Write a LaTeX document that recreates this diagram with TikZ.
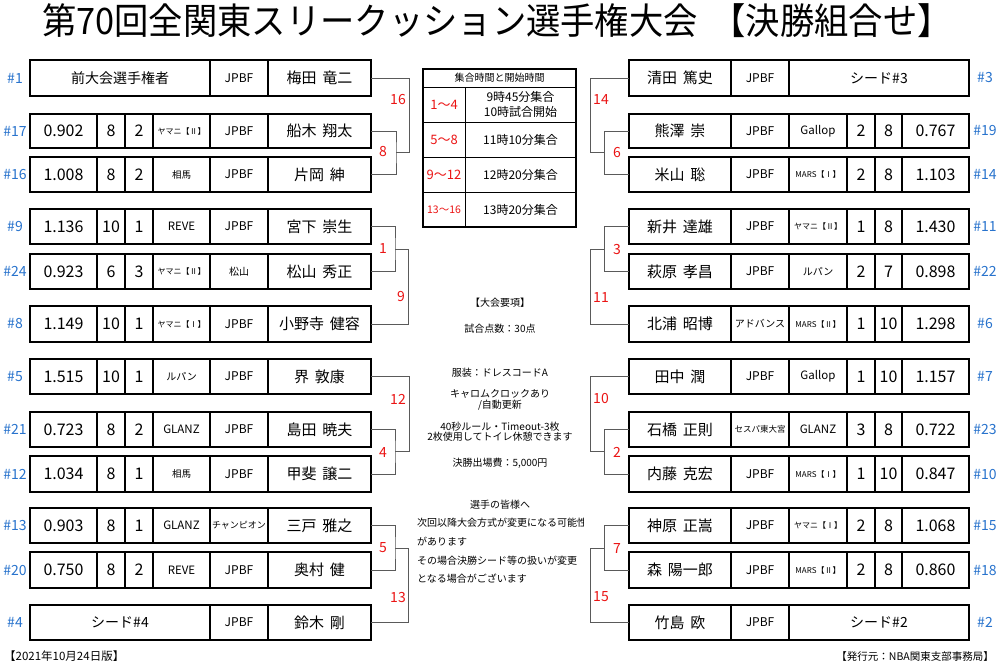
\documentclass[tikz,border=0pt]{standalone}
\usepackage{fontspec}
\setmainfont{Noto Sans CJK JP}
\definecolor{seedblue}{RGB}{40,115,205}
\definecolor{rndred}{RGB}{235,20,20}
\definecolor{connc}{RGB}{90,90,90}
\newcommand\fs[1]{\fontsize{#1}{#1}\selectfont}
\newcommand\nmsp{\hspace{0.4em}}
\tikzset{
  cellbox/.style={draw=black, line width=1.6pt, inner sep=0pt, outer sep=0pt},
  conn/.style={draw=connc, line width=1pt},
  seedlab/.style={text=seedblue, font=\fs{14}},
  rndlab/.style={text=rndred, font=\fs{14}},
  tcell/.style={draw=black, line width=1pt, inner sep=0pt, outer sep=0pt},
  note/.style={font=\fs{10}, inner sep=0pt},
}
% #1 name, #2 x1, #3 x2, #4 top, #5 bot, #6 font size, #7 text
\newcommand\Cell[7]{\node[cellbox, minimum width={(#3-#2)*1pt}, minimum height={(#5-#4)*1pt}, font=\fs{#6}] (#1) at ({(#2+#3)/2},{(#4+#5)/2}) {#7};}
% left row: id top bot avg g w club assoc name
\newcommand\LRow[9]{%
  \Cell{#1a}{30}{97}{#2}{#3}{16}{#4}
  \Cell{#1b}{97}{125}{#2}{#3}{16}{#5}
  \Cell{#1c}{125}{153}{#2}{#3}{16}{#6}
  \Cell{#1d}{153}{210}{#2}{#3}{11.5}{#7}
  \Cell{#1e}{210}{268}{#2}{#3}{12}{#8}
  \Cell{#1}{268}{371}{#2}{#3}{15}{#9}
  \draw[line width=2pt] (30,#2) rectangle (371,#3);}
\newcommand\LSeed[6]{%
  \Cell{#1a}{30}{210}{#2}{#3}{14}{#4}
  \Cell{#1e}{210}{268}{#2}{#3}{12}{#5}
  \Cell{#1}{268}{371}{#2}{#3}{15}{#6}
  \draw[line width=2pt] (30,#2) rectangle (371,#3);}
% right row: id top bot name assoc club w g avg
\newcommand\RRow[9]{%
  \Cell{#1}{629}{731}{#2}{#3}{15}{#4}
  \Cell{#1e}{731}{789}{#2}{#3}{12}{#5}
  \Cell{#1d}{789}{847}{#2}{#3}{11.5}{#6}
  \Cell{#1c}{847}{875}{#2}{#3}{16}{#7}
  \Cell{#1b}{875}{902}{#2}{#3}{16}{#8}
  \Cell{#1a}{902}{969}{#2}{#3}{16}{#9}
  \draw[line width=2pt] (629,#2) rectangle (969,#3);}
\newcommand\RSeed[6]{%
  \Cell{#1}{629}{731}{#2}{#3}{15}{#4}
  \Cell{#1e}{731}{789}{#2}{#3}{12}{#5}
  \Cell{#1a}{789}{969}{#2}{#3}{14}{#6}
  \draw[line width=2pt] (629,#2) rectangle (969,#3);}
\begin{document}
\begin{tikzpicture}[x=1pt,y=-1pt]
\useasboundingbox (0,0) rectangle (1000,667);
\fill[white] (0,0) rectangle (1000,667);

% title
\node[inner sep=0pt] (title) at (497,21) {\scalebox{0.94}[1]{\fs{36.5}第70回全関東スリークッション選手権大会\hspace{0.4em}【決勝組合せ】}};

% ---------- left side ----------
\LSeed{L1}{60}{96}{前大会選手権者}{JPBF}{梅田\nmsp 竜二}
\LRow{L2}{114}{148}{0.902}{8}{2}{\fs{8}ヤマニ【Ⅱ】}{JPBF}{船木\nmsp 翔太}
\LRow{L3}{157}{192}{1.008}{8}{2}{\fs{9.5}相馬}{JPBF}{片岡\nmsp 紳}
\LRow{L4}{209}{244}{1.136}{10}{1}{REVE}{JPBF}{宮下\nmsp 崇生}
\LRow{L5}{254}{289}{0.923}{6}{3}{\fs{8}ヤマニ【Ⅱ】}{\fs{10}松山}{松山\nmsp 秀正}
\LRow{L6}{306}{342}{1.149}{10}{1}{\fs{8}ヤマニ【Ⅰ】}{JPBF}{小野寺\nmsp 健容}
\LRow{L7}{359}{394}{1.515}{10}{1}{\fs{10}ルパン}{JPBF}{界\nmsp 敦康}
\LRow{L8}{412}{447}{0.723}{8}{2}{GLANZ}{JPBF}{島田\nmsp 暁夫}
\LRow{L9}{456}{492}{1.034}{8}{1}{\fs{9.5}相馬}{JPBF}{甲斐\nmsp 譲二}
\LRow{L10}{508}{543}{0.903}{8}{1}{GLANZ}{\fs{9}チャンピオン}{三戸\nmsp 雅之}
\LRow{L11}{552}{588}{0.750}{8}{2}{REVE}{JPBF}{奥村\nmsp 健}
\LSeed{L12}{605}{640}{シード\#4}{JPBF}{鈴木\nmsp 剛}

\node[seedlab] (sL1) at (15,78) {\#1};
\node[seedlab] (sL2) at (15,131) {\#17};
\node[seedlab] (sL3) at (15,174.5) {\#16};
\node[seedlab] (sL4) at (15,226.5) {\#9};
\node[seedlab] (sL5) at (15,271.5) {\#24};
\node[seedlab] (sL6) at (15,324) {\#8};
\node[seedlab] (sL7) at (15,376.5) {\#5};
\node[seedlab] (sL8) at (15,429.5) {\#21};
\node[seedlab] (sL9) at (15,474) {\#12};
\node[seedlab] (sL10) at (15,525.5) {\#13};
\node[seedlab] (sL11) at (15,570) {\#20};
\node[seedlab] (sL12) at (15,622.5) {\#4};

% ---------- right side ----------
\RSeed{R1}{60}{96}{清田\nmsp 篤史}{JPBF}{シード\#3}
\RRow{R2}{114}{148}{熊澤\nmsp 崇}{JPBF}{Gallop}{2}{8}{0.767}
\RRow{R3}{157}{192}{米山\nmsp 聡}{JPBF}{\fs{8}MARS【Ⅰ】}{2}{8}{1.103}
\RRow{R4}{209}{244}{新井\nmsp 達雄}{JPBF}{\fs{8}ヤマニ【Ⅱ】}{1}{8}{1.430}
\RRow{R5}{254}{289}{萩原\nmsp 孝昌}{JPBF}{\fs{10}ルパン}{2}{7}{0.898}
\RRow{R6}{306}{342}{北浦\nmsp 昭博}{\fs{10}アドバンス}{\fs{8}MARS【Ⅱ】}{1}{10}{1.298}
\RRow{R7}{359}{394}{田中\nmsp 潤}{JPBF}{Gallop}{1}{10}{1.157}
\RRow{R8}{412}{447}{石橋\nmsp 正則}{\fs{8.5}セスパ東大宮}{GLANZ}{3}{8}{0.722}
\RRow{R9}{456}{492}{内藤\nmsp 克宏}{JPBF}{\fs{8}MARS【Ⅰ】}{1}{10}{0.847}
\RRow{R10}{508}{543}{神原\nmsp 正嵩}{JPBF}{\fs{8}ヤマニ【Ⅰ】}{2}{8}{1.068}
\RRow{R11}{552}{588}{森\nmsp 陽一郎}{JPBF}{\fs{8}MARS【Ⅱ】}{2}{8}{0.860}
\RSeed{R12}{605}{640}{竹島\nmsp 欧}{JPBF}{シード\#2}

\node[seedlab] (sR1) at (985,78) {\#3};
\node[seedlab] (sR2) at (985,131) {\#19};
\node[seedlab] (sR3) at (985,174.5) {\#14};
\node[seedlab] (sR4) at (985,226.5) {\#11};
\node[seedlab] (sR5) at (985,271.5) {\#22};
\node[seedlab] (sR6) at (985,324) {\#6};
\node[seedlab] (sR7) at (985,376.5) {\#7};
\node[seedlab] (sR8) at (985,429.5) {\#23};
\node[seedlab] (sR9) at (985,474) {\#10};
\node[seedlab] (sR10) at (985,525.5) {\#15};
\node[seedlab] (sR11) at (985,570) {\#18};
\node[seedlab] (sR12) at (985,622.5) {\#2};

% ---------- left connectors ----------
\coordinate (c8) at (396,152.5);
\coordinate (c16) at (409,152.5);
\draw[conn] (L2.east) -| (c8) |- (L3.east);
\draw[conn] (L1.east) -| (c16) -- (c8);
\coordinate (c1) at (395,249);
\coordinate (c9) at (408,249);
\draw[conn] (L4.east) -| (c1) |- (L5.east);
\draw[conn] (c1) -- (c9) |- (L6.east);
\coordinate (c4) at (395,451.5);
\coordinate (c12) at (409,451.5);
\draw[conn] (L8.east) -| (c4) |- (L9.east);
\draw[conn] (L7.east) -| (c12) -- (c4);
\coordinate (c5) at (395,548);
\coordinate (c13) at (408,548);
\draw[conn] (L10.east) -| (c5) |- (L11.east);
\draw[conn] (c5) -- (c13) |- (L12.east);

\node[rndlab] (n16) at (398,100) {16};
\node[rndlab] (n8) at (383,152) {8};
\node[rndlab] (n1) at (383,249) {1};
\node[rndlab] (n9) at (401,297) {9};
\node[rndlab] (n12) at (398,399) {12};
\node[rndlab] (n4) at (383,452) {4};
\node[rndlab] (n5) at (383,548) {5};
\node[rndlab] (n13) at (398,597) {13};

% ---------- right connectors ----------
\coordinate (c6) at (604,152.5);
\coordinate (c14) at (590,152.5);
\draw[conn] (R2.west) -| (c6) |- (R3.west);
\draw[conn] (R1.west) -| (c14) -- (c6);
\coordinate (c3) at (604,249.5);
\coordinate (c11) at (590,249.5);
\draw[conn] (R4.west) -| (c3) |- (R5.west);
\draw[conn] (c3) -- (c11) |- (R6.west);
\coordinate (c2) at (604,451.5);
\coordinate (c10) at (590,451.5);
\draw[conn] (R8.west) -| (c2) |- (R9.west);
\draw[conn] (R7.west) -| (c10) -- (c2);
\coordinate (c7) at (604,548);
\coordinate (c15) at (590,548);
\draw[conn] (R10.west) -| (c7) |- (R11.west);
\draw[conn] (c7) -- (c15) |- (R12.west);

\node[rndlab] (n14) at (601,100) {14};
\node[rndlab] (n6) at (617,153) {6};
\node[rndlab] (n3) at (617,250) {3};
\node[rndlab] (n11) at (601,298) {11};
\node[rndlab] (n10) at (601,399) {10};
\node[rndlab] (n2) at (617,452) {2};
\node[rndlab] (n7) at (617,548) {7};
\node[rndlab] (n15) at (601,597) {15};

% ---------- schedule table ----------
\node[tcell, minimum width=153pt, minimum height=18pt, font=\fs{10}] (th) at (499.5,78) {集合時間と開始時間};
\node[tcell, minimum width=42pt, minimum height=35pt, font=\fs{13}, text=rndred] (t1a) at (444,104.5) {1～4};
\node[tcell, minimum width=111pt, minimum height=35pt, font=\fs{12}, align=center] (t1b) at (520.5,104.5) {9時45分集合\\[3pt]10時試合開始};
\node[tcell, minimum width=42pt, minimum height=35pt, font=\fs{13}, text=rndred] (t2a) at (444,139.5) {5～8};
\node[tcell, minimum width=111pt, minimum height=35pt, font=\fs{12}] (t2b) at (520.5,139.5) {11時10分集合};
\node[tcell, minimum width=42pt, minimum height=35pt, font=\fs{13}, text=rndred] (t3a) at (444,174.5) {9～12};
\node[tcell, minimum width=111pt, minimum height=35pt, font=\fs{12}] (t3b) at (520.5,174.5) {12時20分集合};
\node[tcell, minimum width=42pt, minimum height=35pt, font=\fs{10.5}, text=rndred] (t4a) at (444,209.5) {13～16};
\node[tcell, minimum width=111pt, minimum height=35pt, font=\fs{12}] (t4b) at (520.5,209.5) {13時20分集合};
\draw[line width=2pt] (423,69) rectangle (576,227);

% ---------- notes ----------
\node[note] (k1) at (500,303) {【大会要項】};
\node[note] (k2) at (500,329) {試合点数：30点};
\node[note] (k3) at (500,373) {服装：ドレスコードA};
\node[note, align=center] (k4) at (500,399.5) {キャロムクロックあり\\[1pt]/自動更新};
\node[note, align=center] (k5) at (500,432) {40秒ルール・Timeout-3枚\\2枚使用してトイレ休憩できます};
\node[note] (k6) at (500,463) {決勝出場費：5,000円};

\node[note] (m0) at (500,505) {選手の皆様へ};
\begin{scope}
\clip (410,510) rectangle (583,535);
\node[note, anchor=west] (m1) at (417,523) {次回以降大会方式が変更になる可能性};
\end{scope}
\node[note, anchor=west] (m2) at (417,542) {があります};
\node[note, anchor=west] (m3) at (417,561) {その場合決勝シード等の扱いが変更};
\node[note, anchor=west] (m4) at (417,579) {となる場合がございます};

% ---------- footer ----------
\node[note, font=\fs{11.5}, anchor=west] (f1) at (4,656) {【2021年10月24日版】};
\node[note, font=\fs{10.5}, anchor=east] (f2) at (994,656) {【発行元：NBA関東支部事務局】};
\end{tikzpicture}
\end{document}
